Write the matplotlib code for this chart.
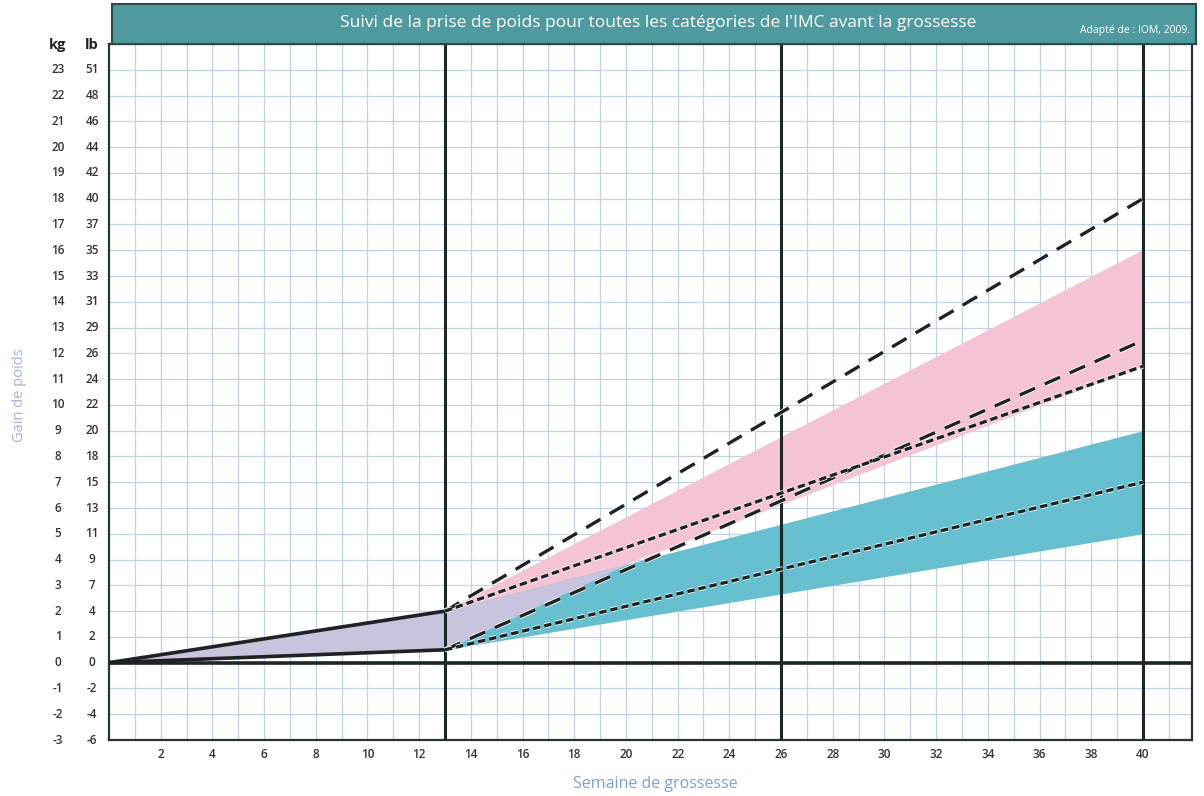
import numpy as np
import matplotlib
matplotlib.use("Agg")
import matplotlib.pyplot as plt
from matplotlib.patches import Rectangle
import matplotlib.patheffects as pe

plt.rcParams['font.family'] = ['Open Sans', 'DejaVu Sans']

# ---- data ----
title = "Suivi de la prise de poids pour toutes les catégories de l'IMC avant la grossesse"
source = "Adapté de : IOM, 2009."
xlabel = "Semaine de grossesse"
ylabel = "Gain de poids"

week_ticks = list(range(2, 41, 2))
kg_ticks = list(range(-3, 24))
lb_ticks = [-6, -4, -2, 0, 2, 4, 7, 9, 11, 13, 15, 18, 20, 22, 24, 26, 29, 31,
            33, 35, 37, 40, 42, 44, 46, 48, 51]
trimester_weeks = [13, 26, 40]

# first trimester (weeks 0-13)
t1_weeks = [0, 13]
t1_upper = [0, 2.0]
t1_lower = [0, 0.5]

# bands weeks 13-40
band_weeks = [13, 40]
pink_upper = [2.0, 16.0]
pink_lower_weeks = [13, 20, 40]
pink_lower = [0.5, 3.8, 11.5]
blue_lower = [0.5, 5.0]
blue_upper = [2.0, 9.0]

# dashed guides weeks 13-40
long_dash_upper = [2.0, 18.0]
long_dash_lower = [0.5, 12.5]
short_dash_upper = [2.0, 11.5]
short_dash_lower = [0.5, 7.0]

# ---- figure ----
W, H = 1204, 796
fig = plt.figure(figsize=(W / 100, H / 100), dpi=100)
ax_l, ax_r, ax_t, ax_b = 109, 1192, 44, 740
ax = fig.add_axes([ax_l / W, 1 - ax_b / H, (ax_r - ax_l) / W, (ax_b - ax_t) / H])
ax.set_xlim(0, 41.9)
ax.set_ylim(-3, 24)

# grid
grid_c = '#c4d2e8'
for w in range(1, 42):
    ax.axvline(w, color=grid_c, lw=0.9, zorder=0)
for k in range(-3, 24):
    ax.axhline(k, color=grid_c, lw=0.9, zorder=0)

# bands
pink_c = '#f5c4d4'
blue_c = '#66c0cf'
lav_c = '#c9c4dd'
pink_x = list(band_weeks) + pink_lower_weeks[::-1]
pink_y = list(pink_upper) + pink_lower[::-1]
ax.fill(pink_x, pink_y, color=pink_c, lw=0, zorder=1)
ax.fill_between(band_weeks, blue_lower, blue_upper, color=blue_c, lw=0, zorder=1)
xs = np.linspace(band_weeks[0], band_weeks[1], 600)
ov_lo = np.maximum(np.interp(xs, pink_lower_weeks, pink_lower), np.interp(xs, band_weeks, blue_lower))
ov_hi = np.minimum(np.interp(xs, band_weeks, pink_upper), np.interp(xs, band_weeks, blue_upper))
ax.fill_between(xs, ov_lo, ov_hi, where=ov_hi > ov_lo, color=lav_c, lw=0, zorder=1.5)
ax.fill_between(t1_weeks, t1_lower, t1_upper, color=lav_c, lw=0, zorder=1)

# heavy reference lines
for w in trimester_weeks:
    ax.axvline(w, color='#1e2626', lw=2.2, zorder=3)
ax.axhline(0, color='#1e2626', lw=2.6, zorder=3)

# first trimester lines
ax.plot(t1_weeks, t1_upper, color='#1e2222', lw=2.6, zorder=4)
ax.plot(t1_weeks, t1_lower, color='#1e2222', lw=2.6, zorder=4)

halo = [pe.Stroke(linewidth=3.6, foreground='white'), pe.Normal()]
for ys in (long_dash_upper, long_dash_lower):
    ax.plot(band_weeks, ys, color='#1e2222', lw=2.4, dashes=(5, 3.2), zorder=5,
            path_effects=halo)
for ys in (short_dash_upper, short_dash_lower):
    ax.plot(band_weeks, ys, color='#1e2222', lw=2.4, dashes=(2.2, 1.2), zorder=5,
            path_effects=halo)

for s in ax.spines.values():
    s.set_color('#2a3434')
    s.set_linewidth(1.6)
ax.set_xticks(week_ticks)
ax.set_xticklabels([str(w) for w in week_ticks], fontsize=8.5, color='#333333',
                   fontweight='semibold')
ax.tick_params(axis='x', length=0, pad=6)
ax.set_yticks([])

# y labels columns
def fy(v):
    return 1 - (ax_b - (v + 3) / 27 * (ax_b - ax_t)) / H

for k, lb in zip(kg_ticks, lb_ticks):
    fig.text(58 / W, fy(k), str(k), ha='center', va='center', fontsize=8.5,
             color='#333333', fontweight='semibold')
    fig.text(92 / W, fy(k), str(lb), ha='center', va='center', fontsize=8.5,
             color='#333333', fontweight='semibold')
fig.text(58 / W, 1 - 45 / H, 'kg', ha='center', va='center', fontsize=10.5,
         color='#222222', fontweight='bold')
fig.text(92 / W, 1 - 45 / H, 'lb', ha='center', va='center', fontsize=10.5,
         color='#222222', fontweight='bold')

# title bar
fig.patches.append(Rectangle((112 / W, 1 - 44 / H), (1196 - 112) / W, 40 / H,
                             transform=fig.transFigure, facecolor='#4f9a9e',
                             edgecolor='#2c4a4c', lw=1.5, zorder=0))
fig.text(658 / W, 1 - 23 / H, title, ha='center', va='center', fontsize=12.5,
         color='white')
fig.text(1190 / W, 1 - 31 / H, source, ha='right', va='center', fontsize=7.5,
         color='white')

fig.text(20 / W, 1 - 395 / H, ylabel, rotation=90, ha='center', va='center',
         fontsize=10.5, color='#a9b1dc')
fig.text(655 / W, 1 - 784 / H, xlabel, ha='center', va='center',
         fontsize=11.5, color='#7f9fd3')

fig.savefig('out.png', dpi=100)
